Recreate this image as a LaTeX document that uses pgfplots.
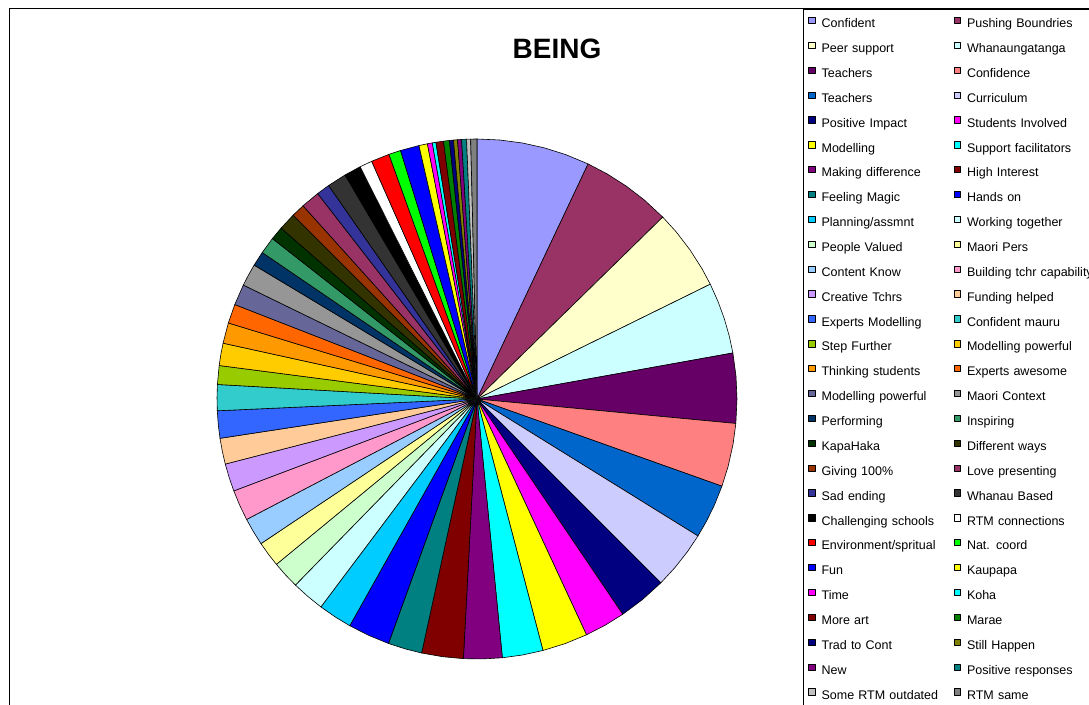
\documentclass[border=0pt]{standalone}
\usepackage{pgfplots}
\pgfplotsset{compat=1.18}
\usepgfplotslibrary{polar}
\usepackage{fontspec}
\setmainfont{Liberation Sans}
\definecolor{c1}{HTML}{9999FF}\definecolor{c2}{HTML}{993366}\definecolor{c3}{HTML}{FFFFCC}\definecolor{c4}{HTML}{CCFFFF}
\definecolor{c5}{HTML}{660066}\definecolor{c6}{HTML}{FF8080}\definecolor{c7}{HTML}{0066CC}\definecolor{c8}{HTML}{CCCCFF}
\definecolor{c9}{HTML}{000080}\definecolor{c10}{HTML}{FF00FF}\definecolor{c11}{HTML}{FFFF00}\definecolor{c12}{HTML}{00FFFF}
\definecolor{c13}{HTML}{800080}\definecolor{c14}{HTML}{800000}\definecolor{c15}{HTML}{008080}\definecolor{c16}{HTML}{0000FF}
\definecolor{c17}{HTML}{00CCFF}\definecolor{c18}{HTML}{CCFFFF}\definecolor{c19}{HTML}{CCFFCC}\definecolor{c20}{HTML}{FFFF99}
\definecolor{c21}{HTML}{99CCFF}\definecolor{c22}{HTML}{FF99CC}\definecolor{c23}{HTML}{CC99FF}\definecolor{c24}{HTML}{FFCC99}
\definecolor{c25}{HTML}{3366FF}\definecolor{c26}{HTML}{33CCCC}\definecolor{c27}{HTML}{99CC00}\definecolor{c28}{HTML}{FFCC00}
\definecolor{c29}{HTML}{FF9900}\definecolor{c30}{HTML}{FF6600}\definecolor{c31}{HTML}{666699}\definecolor{c32}{HTML}{969696}
\definecolor{c33}{HTML}{003366}\definecolor{c34}{HTML}{339966}\definecolor{c35}{HTML}{003300}\definecolor{c36}{HTML}{333300}
\definecolor{c37}{HTML}{993300}\definecolor{c38}{HTML}{993366}\definecolor{c39}{HTML}{333399}\definecolor{c40}{HTML}{333333}
\definecolor{c41}{HTML}{000000}\definecolor{c42}{HTML}{FFFFFF}\definecolor{c43}{HTML}{FF0000}\definecolor{c44}{HTML}{00FF00}
\definecolor{c45}{HTML}{0000FF}\definecolor{c46}{HTML}{FFFF00}\definecolor{c47}{HTML}{FF00FF}\definecolor{c48}{HTML}{00FFFF}
\definecolor{c49}{HTML}{800000}\definecolor{c50}{HTML}{008000}\definecolor{c51}{HTML}{000080}\definecolor{c52}{HTML}{808000}
\definecolor{c53}{HTML}{800080}\definecolor{c54}{HTML}{008080}\definecolor{c55}{HTML}{C0C0C0}\definecolor{c56}{HTML}{808080}
\begin{document}
\begin{tikzpicture}
\useasboundingbox (0,0) rectangle (1089pt,704pt);
\clip (0,0) rectangle (1089pt,704pt);
\fill[white] (0,0) rectangle (1089pt,704pt);
\draw[line width=1pt] (9pt,-5pt) -- (9pt,695.5pt) -- (1100pt,695.5pt);
\node[font=\fontsize{28}{32}\selectfont\bfseries] at (557pt,655pt) {BEING};
\begin{polaraxis}[
  at={(477pt,305pt)}, anchor=center,
  scale only axis, width=520pt, height=520pt,
  ymin=0, ymax=1, hide axis, clip=false,
  every axis plot/.append style={draw=black, line width=0.6pt, line join=round},
  legend image code/.code={\draw[#1, line width=0.5pt] (0pt,1.2pt) rectangle (6.3pt,7.5pt);},
  legend columns=2,
  legend cell align=left,
  legend style={at={(1.12692,1.25)}, anchor=north west, draw=black, line width=0.8pt,
    inner xsep=5pt, inner ysep=7.5pt, row sep=11.12pt, column sep=0pt,
    font=\fontsize{12.5}{14}\selectfont,
    nodes={inner sep=0pt, text height=9pt, text depth=3pt, text width=132.2pt, align=left},
    /tikz/every odd column/.style={column sep=6.4pt},
    /tikz/every even column/.style={column sep=0pt}},
]
\addplot[fill=c1] coordinates {(0,0) (90,1) (85,1) (80,1) (75,1) (70,1) (64.7,1) (0,0)}; \addlegendentry{Confident}
\addplot[fill=c2] coordinates {(0,0) (64.7,1) (60,1) (55,1) (50,1) (44.4,1) (0,0)}; \addlegendentry{Pushing Boundries}
\addplot[fill=c3] coordinates {(0,0) (44.4,1) (40,1) (35,1) (30,1) (26.2,1) (0,0)}; \addlegendentry{Peer support}
\addplot[fill=c4] coordinates {(0,0) (26.2,1) (22,1) (18,1) (14,1) (10.2,1) (0,0)}; \addlegendentry{Whanaungatanga}
\addplot[fill=c5] coordinates {(0,0) (10.2,1) (5,1) (0,1) (-5.4,1) (0,0)}; \addlegendentry{Teachers}
\addplot[fill=c6] coordinates {(0,0) (-5.4,1) (-10,1) (-15,1) (-19.6,1) (0,0)}; \addlegendentry{Confidence}
\addplot[fill=c7] coordinates {(0,0) (-19.6,1) (-24,1) (-28,1) (-31.8,1) (0,0)}; \addlegendentry{Teachers}
\addplot[fill=c8] coordinates {(0,0) (-31.8,1) (-36,1) (-40.5,1) (-45,1) (0,0)}; \addlegendentry{Curriculum}
\addplot[fill=c9] coordinates {(0,0) (-45,1) (-50.5,1) (-55.9,1) (0,0)}; \addlegendentry{Positive Impact}
\addplot[fill=c10] coordinates {(0,0) (-55.9,1) (-60.5,1) (-65.1,1) (0,0)}; \addlegendentry{Students Involved}
\addplot[fill=c11] coordinates {(0,0) (-65.1,1) (-70.2,1) (-75.3,1) (0,0)}; \addlegendentry{Modelling}
\addplot[fill=c12] coordinates {(0,0) (-75.3,1) (-80,1) (-84.4,1) (0,0)}; \addlegendentry{Support facilitators}
\addplot[fill=c13] coordinates {(0,0) (-84.4,1) (-88.7,1) (-93,1) (0,0)}; \addlegendentry{Making difference}
\addplot[fill=c14] coordinates {(0,0) (-93,1) (-97.6,1) (-102.3,1) (0,0)}; \addlegendentry{High Interest}
\addplot[fill=c15] coordinates {(0,0) (-102.3,1) (-106,1) (-109.9,1) (0,0)}; \addlegendentry{Feeling Magic}
\addplot[fill=c16] coordinates {(0,0) (-109.9,1) (-114.6,1) (-119.3,1) (0,0)}; \addlegendentry{Hands on}
\addplot[fill=c17] coordinates {(0,0) (-119.3,1) (-123,1) (-126.9,1) (0,0)}; \addlegendentry{Planning/assmnt}
\addplot[fill=c18] coordinates {(0,0) (-126.9,1) (-130.6,1) (-134.3,1) (0,0)}; \addlegendentry{Working together}
\addplot[fill=c19] coordinates {(0,0) (-134.3,1) (-137.4,1) (-140.5,1) (0,0)}; \addlegendentry{People Valued}
\addplot[fill=c20] coordinates {(0,0) (-140.5,1) (-143.3,1) (-146.2,1) (0,0)}; \addlegendentry{Maori Pers}
\addplot[fill=c21] coordinates {(0,0) (-146.2,1) (-149.3,1) (-152.4,1) (0,0)}; \addlegendentry{Content Know}
\addplot[fill=c22] coordinates {(0,0) (-152.4,1) (-155.8,1) (-159.3,1) (0,0)}; \addlegendentry{Building tchr capability}
\addplot[fill=c23] coordinates {(0,0) (-159.3,1) (-162.4,1) (-165.5,1) (0,0)}; \addlegendentry{Creative Tchrs}
\addplot[fill=c24] coordinates {(0,0) (-165.5,1) (-168.4,1) (-171.3,1) (0,0)}; \addlegendentry{Funding helped}
\addplot[fill=c25] coordinates {(0,0) (-171.3,1) (-174.3,1) (-177.4,1) (0,0)}; \addlegendentry{Experts Modelling}
\addplot[fill=c26] coordinates {(0,0) (-177.4,1) (-180.3,1) (-183.2,1) (0,0)}; \addlegendentry{Confident mauru}
\addplot[fill=c27] coordinates {(0,0) (-183.2,1) (-187.4,1) (0,0)}; \addlegendentry{Step Further}
\addplot[fill=c28] coordinates {(0,0) (-187.4,1) (-189.9,1) (-192.4,1) (0,0)}; \addlegendentry{Modelling powerful}
\addplot[fill=c29] coordinates {(0,0) (-192.4,1) (-197,1) (0,0)}; \addlegendentry{Thinking students}
\addplot[fill=c30] coordinates {(0,0) (-197,1) (-201.3,1) (0,0)}; \addlegendentry{Experts awesome}
\addplot[fill=c31] coordinates {(0,0) (-201.3,1) (-206,1) (0,0)}; \addlegendentry{Modelling powerful}
\addplot[fill=c32] coordinates {(0,0) (-206,1) (-208.5,1) (-211,1) (0,0)}; \addlegendentry{Maori Context}
\addplot[fill=c33] coordinates {(0,0) (-211,1) (-214.3,1) (0,0)}; \addlegendentry{Performing}
\addplot[fill=c34] coordinates {(0,0) (-214.3,1) (-218.1,1) (0,0)}; \addlegendentry{Inspiring}
\addplot[fill=c35] coordinates {(0,0) (-218.1,1) (-221.1,1) (0,0)}; \addlegendentry{KapaHaka}
\addplot[fill=c36] coordinates {(0,0) (-221.1,1) (-225,1) (0,0)}; \addlegendentry{Different ways}
\addplot[fill=c37] coordinates {(0,0) (-225,1) (-228,1) (0,0)}; \addlegendentry{Giving 100\%}
\addplot[fill=c38] coordinates {(0,0) (-228,1) (-232.2,1) (0,0)}; \addlegendentry{Love presenting}
\addplot[fill=c39] coordinates {(0,0) (-232.2,1) (-235.2,1) (0,0)}; \addlegendentry{Sad ending}
\addplot[fill=c40] coordinates {(0,0) (-235.2,1) (-239.5,1) (0,0)}; \addlegendentry{Whanau Based}
\addplot[fill=c41] coordinates {(0,0) (-239.5,1) (-243.3,1) (0,0)}; \addlegendentry{Challenging schools}
\addplot[fill=c42] coordinates {(0,0) (-243.3,1) (-246.1,1) (0,0)}; \addlegendentry{RTM connections}
\addplot[fill=c43] coordinates {(0,0) (-246.1,1) (-250.2,1) (0,0)}; \addlegendentry{Environment/spritual}
\addplot[fill=c44] coordinates {(0,0) (-250.2,1) (-252.9,1) (0,0)}; \addlegendentry{Nat. coord}
\addplot[fill=c45] coordinates {(0,0) (-252.9,1) (-257.1,1) (0,0)}; \addlegendentry{Fun}
\addplot[fill=c46] coordinates {(0,0) (-257.1,1) (-259,1) (0,0)}; \addlegendentry{Kaupapa}
\addplot[fill=c47] coordinates {(0,0) (-259,1) (-260.1,1) (0,0)}; \addlegendentry{Time}
\addplot[fill=c48] coordinates {(0,0) (-260.1,1) (-260.9,1) (0,0)}; \addlegendentry{Koha}
\addplot[fill=c49] coordinates {(0,0) (-260.9,1) (-262.6,1) (0,0)}; \addlegendentry{More art}
\addplot[fill=c50] coordinates {(0,0) (-262.6,1) (-263.9,1) (0,0)}; \addlegendentry{Marae}
\addplot[fill=c51] coordinates {(0,0) (-263.9,1) (-264.8,1) (0,0)}; \addlegendentry{Trad to Cont}
\addplot[fill=c52] coordinates {(0,0) (-264.8,1) (-265.7,1) (0,0)}; \addlegendentry{Still Happen}
\addplot[fill=c53] coordinates {(0,0) (-265.7,1) (-266.6,1) (0,0)}; \addlegendentry{New}
\addplot[fill=c54] coordinates {(0,0) (-266.6,1) (-267.7,1) (0,0)}; \addlegendentry{Positive responses}
\addplot[fill=c55] coordinates {(0,0) (-267.7,1) (-268.6,1) (0,0)}; \addlegendentry{Some RTM outdated}
\addplot[fill=c56] coordinates {(0,0) (-268.6,1) (-270,1) (0,0)}; \addlegendentry{RTM same}
\end{polaraxis}
\end{tikzpicture}
\end{document}
